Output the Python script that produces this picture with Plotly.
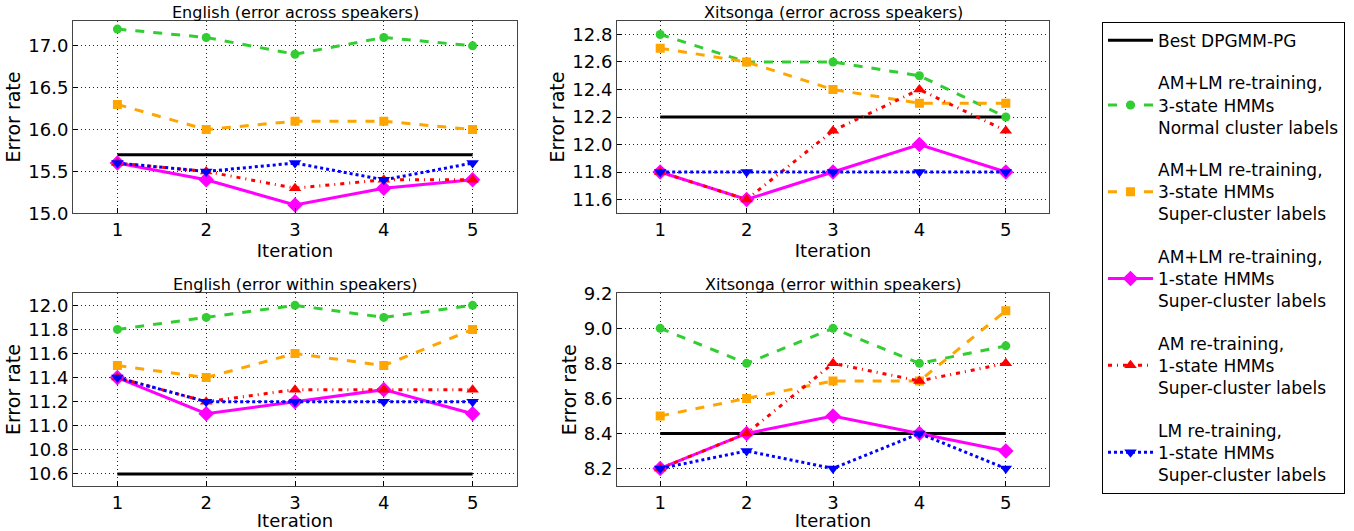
import plotly.graph_objects as go

iterations = [1, 2, 3, 4, 5]

# English (error across speakers)
en_across_green = [17.2, 17.1, 16.9, 17.1, 17.0]
en_across_orange = [16.3, 16.0, 16.1, 16.1, 16.0]
en_across_magenta = [15.6, 15.4, 15.1, 15.3, 15.4]
en_across_red = [15.6, 15.5, 15.3, 15.4, 15.4]
en_across_blue = [15.6, 15.5, 15.6, 15.4, 15.6]
en_across_best = 15.7

# Xitsonga (error across speakers)
xt_across_green = [12.8, 12.6, 12.6, 12.5, 12.2]
xt_across_orange = [12.7, 12.6, 12.4, 12.3, 12.3]
xt_across_magenta = [11.8, 11.6, 11.8, 12.0, 11.8]
xt_across_red = [11.8, 11.6, 12.1, 12.4, 12.1]
xt_across_blue = [11.8, 11.8, 11.8, 11.8, 11.8]
xt_across_best = 12.2

# English (error within speakers)
en_within_green = [11.8, 11.9, 12.0, 11.9, 12.0]
en_within_orange = [11.5, 11.4, 11.6, 11.5, 11.8]
en_within_magenta = [11.4, 11.1, 11.2, 11.3, 11.1]
en_within_red = [11.4, 11.2, 11.3, 11.3, 11.3]
en_within_blue = [11.4, 11.2, 11.2, 11.2, 11.2]
en_within_best = 10.6

# Xitsonga (error within speakers)
xt_within_green = [9.0, 8.8, 9.0, 8.8, 8.9]
xt_within_orange = [8.5, 8.6, 8.7, 8.7, 9.1]
xt_within_magenta = [8.2, 8.4, 8.5, 8.4, 8.3]
xt_within_red = [8.2, 8.4, 8.8, 8.7, 8.8]
xt_within_blue = [8.2, 8.3, 8.2, 8.4, 8.2]
xt_within_best = 8.4

titles = ["English (error across speakers)", "Xitsonga (error across speakers)",
          "English (error within speakers)", "Xitsonga (error within speakers)"]

series_names = [
    "Best DPGMM-PG",
    "AM+LM re-training,<br>3-state HMMs<br>Normal cluster labels",
    "AM+LM re-training,<br>3-state HMMs<br>Super-cluster labels",
    "AM+LM re-training,<br>1-state HMMs<br>Super-cluster labels",
    "AM re-training,<br>1-state HMMs<br>Super-cluster labels",
    "LM re-training,<br>1-state HMMs<br>Super-cluster labels",
]

panels = [
    dict(best=en_across_best, data=[en_across_green, en_across_orange, en_across_magenta, en_across_red, en_across_blue],
         yrange=[15.0, 17.3], dtick=0.5),
    dict(best=xt_across_best, data=[xt_across_green, xt_across_orange, xt_across_magenta, xt_across_red, xt_across_blue],
         yrange=[11.5, 12.9], dtick=0.2),
    dict(best=en_within_best, data=[en_within_green, en_within_orange, en_within_magenta, en_within_red, en_within_blue],
         yrange=[10.5, 12.1], dtick=0.2),
    dict(best=xt_within_best, data=[xt_within_green, xt_within_orange, xt_within_magenta, xt_within_red, xt_within_blue],
         yrange=[8.1, 9.2], dtick=0.2),
]

styles = [
    dict(color="#32CD32", dash="dash", symbol="circle", size=9),
    dict(color="#FFA500", dash="dash", symbol="square", size=9),
    dict(color="#FF00FF", dash="solid", symbol="diamond", size=12),
    dict(color="#FF0000", dash="4px,5px,1px,5px", symbol="triangle-up", size=11),
    dict(color="#0000FF", dash="dot", symbol="triangle-down", size=11),
]

W, H = 1354, 531


def px_x(v):
    return v / W


def px_y(v):
    return 1 - v / H


xdoms = [[px_x(73), px_x(517)], [px_x(617), px_x(1049)]]
ydoms = [[px_y(213.3), px_y(20.7)], [px_y(486), px_y(293.3)]]

fig = go.Figure()
font_family = "DejaVu Sans"

for i, p in enumerate(panels):
    r, c = divmod(i, 2)
    ax = "" if i == 0 else str(i + 1)
    xref, yref = "x" + ax, "y" + ax
    showleg = (i == 0)
    fig.add_trace(go.Scatter(
        x=[iterations[0], iterations[-1]], y=[p["best"], p["best"]], mode="lines",
        line=dict(color="black", width=3), name=series_names[0],
        legendgroup="g0", showlegend=showleg, xaxis=xref, yaxis=yref))
    for k, (vals, st) in enumerate(zip(p["data"], styles)):
        fig.add_trace(go.Scatter(
            x=iterations, y=vals, mode="lines+markers",
            line=dict(color=st["color"], width=3, dash=st["dash"]),
            marker=dict(symbol=st["symbol"], size=st["size"], color=st["color"],
                        line=dict(width=0)),
            name=series_names[k + 1], legendgroup="g%d" % (k + 1),
            showlegend=showleg, xaxis=xref, yaxis=yref))
    axis_common = dict(showline=True, linecolor="#444444", linewidth=1, mirror=True,
                       ticks="inside", ticklen=5, tickcolor="black", automargin=False,
                       showgrid=True, gridcolor="#222222", griddash="1px,3px", gridwidth=1,
                       zeroline=False, tickfont=dict(size=18, color="black", family=font_family))
    fig.layout["xaxis" + ax] = dict(
        domain=xdoms[c], range=[0.5, 5.5], tickvals=iterations, anchor=yref,
        title=dict(text="Iteration", font=dict(size=18, color="black", family=font_family), standoff=0),
        **axis_common)
    fig.layout["yaxis" + ax] = dict(
        domain=ydoms[r], range=p["yrange"], dtick=p["dtick"], tick0=0, tickformat=".1f", anchor=xref,
        title=dict(text="Error rate", font=dict(size=19, color="black", family=font_family), standoff=2),
        **axis_common)
    fig.add_annotation(
        text=titles[i], x=(xdoms[c][0] + xdoms[c][1]) / 2, y=ydoms[r][1], xref="paper", yref="paper",
        xanchor="center", yanchor="bottom", yshift=-2, borderpad=0, showarrow=False,
        font=dict(size=16, color="black", family=font_family))

fig.update_layout(
    width=W, height=H, margin=dict(l=0, r=0, t=0, b=0),
    plot_bgcolor="white", paper_bgcolor="white",
    font=dict(family=font_family, color="black"),
    legend=dict(x=px_x(1102), y=px_y(21.7), xanchor="left", yanchor="top",
                bordercolor="black", borderwidth=1, bgcolor="white",
                font=dict(size=17, color="black", family=font_family),
                tracegroupgap=17.5, itemwidth=45),
)

fig.write_html("out.html", config={"displayModeBar": False},
               post_script="document.body.style.margin='0px';")
